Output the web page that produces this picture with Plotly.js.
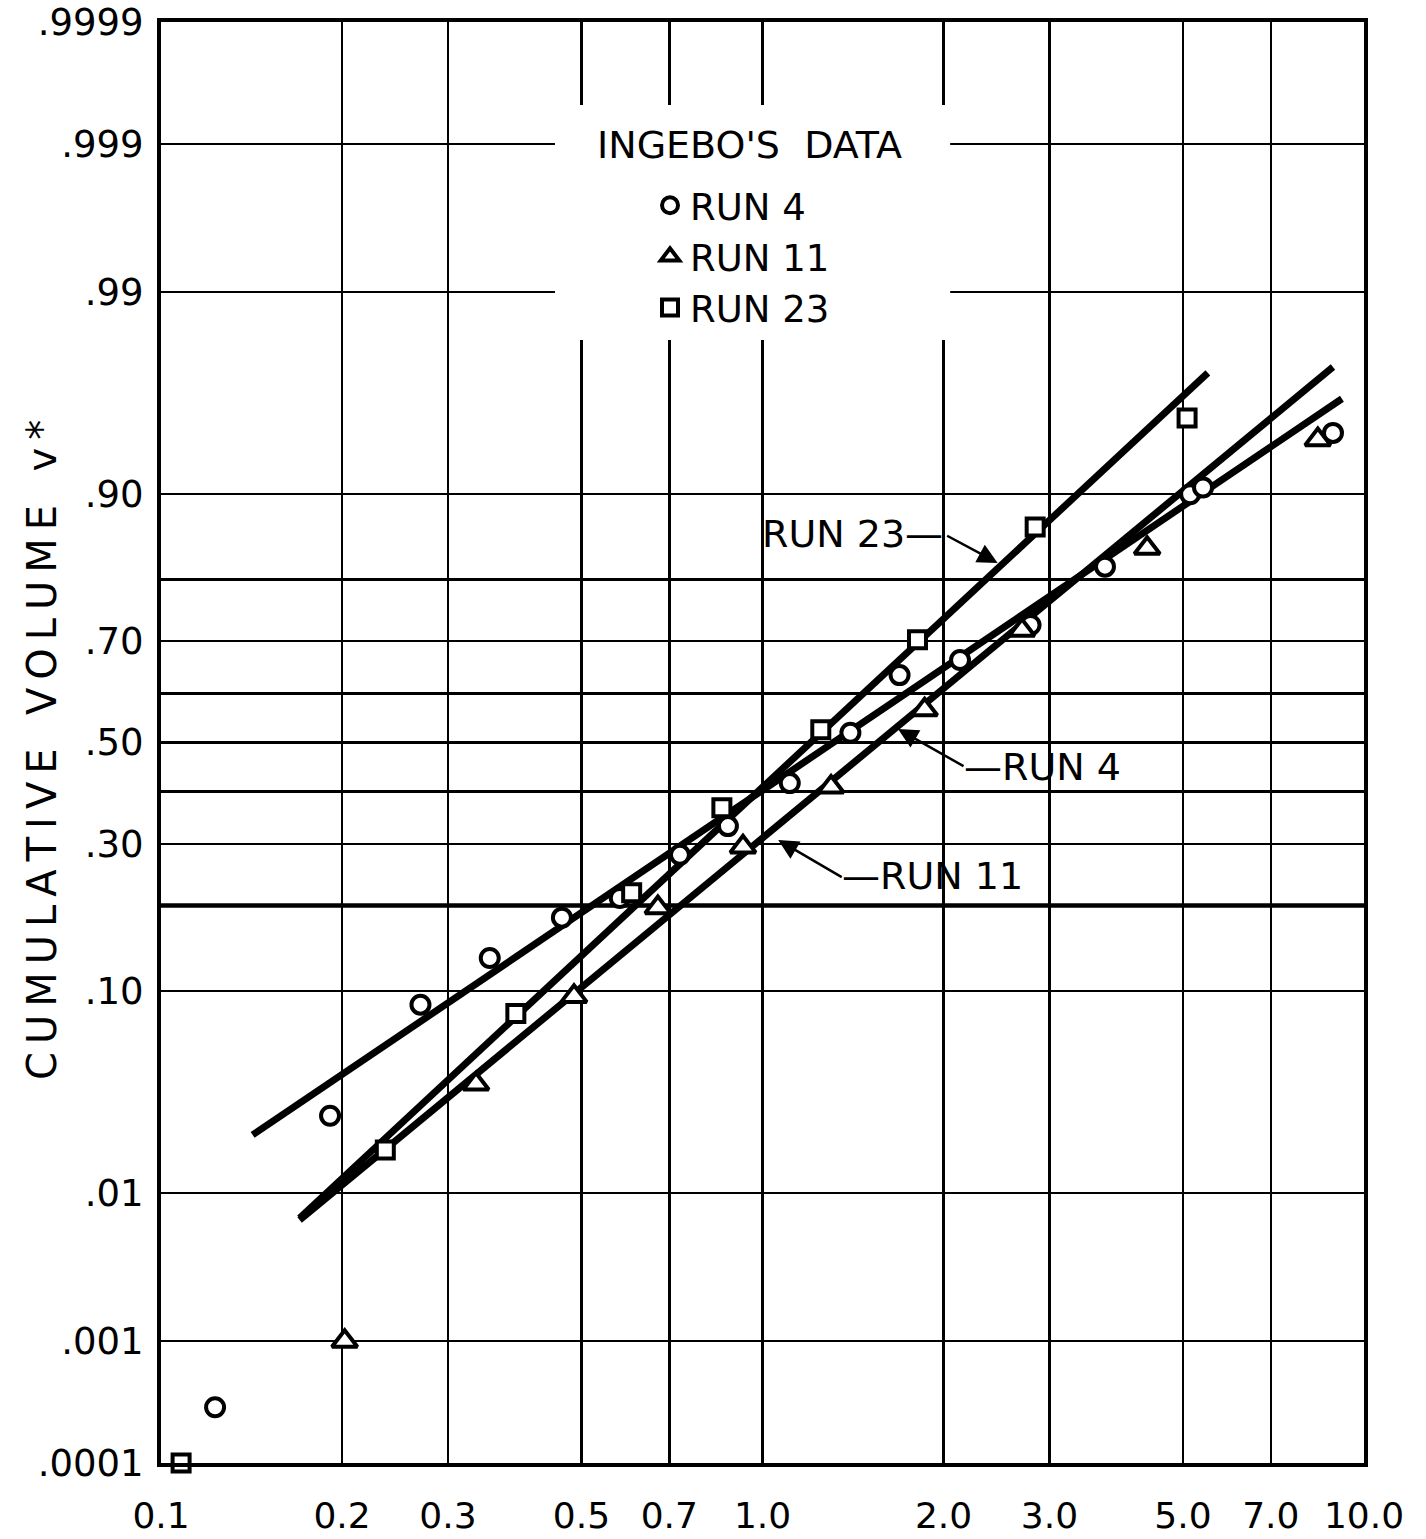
<!DOCTYPE html>
<html>
<head>
<meta charset="utf-8">
<script src="https://cdn.plot.ly/plotly-3.0.1.min.js"></script>
<style>html,body{margin:0;padding:0;background:#fff;}#chart{width:1426px;height:1539px;}</style>
</head>
<body>
<div id="chart"></div>
<script>
// ---------- data ----------
// drop size (x) and cumulative volume fraction (probability)
const run4X  = [0.123, 0.191, 0.270, 0.352, 0.464, 0.579, 0.729, 0.876, 1.11, 1.40, 1.69, 2.13, 2.79, 3.71, 5.14, 5.40, 8.88];
const run4P  = [0.0003, 0.027, 0.088, 0.133, 0.183, 0.211, 0.281, 0.333, 0.417, 0.520, 0.636, 0.665, 0.728, 0.818, 0.900, 0.906, 0.945];
const run11X = [0.202, 0.334, 0.486, 0.670, 0.928, 1.30, 1.86, 2.70, 4.36, 8.38];
const run11P = [0.001, 0.039, 0.095, 0.197, 0.295, 0.409, 0.567, 0.719, 0.842, 0.941];
const run23X = [0.108, 0.236, 0.389, 0.606, 0.856, 1.25, 1.81, 2.84, 5.08];
const run23P = [0.0001, 0.0177, 0.081, 0.219, 0.368, 0.526, 0.702, 0.867, 0.953];
// hand-drawn fitted lines (end points)
const fit4X  = [0.142, 9.19];
const fit4P  = [0.0214, 0.962];
const fit11X = [0.170, 8.88];
const fit11P = [0.00685, 0.9737];
const fit23X = [0.170, 5.50];
const fit23P = [0.00705, 0.9718];
// axes
const xTickVals = [0.1, 0.2, 0.3, 0.5, 0.7, 1, 2, 3, 5, 7, 10];
const xTickText = ["0.1", "0.2", "0.3", "0.5", "0.7", "1.0", "2.0", "3.0", "5.0", "7.0", "10.0"];
const yGridP    = [0.0001, 0.001, 0.01, 0.10, 0.20, 0.30, 0.40, 0.50, 0.60, 0.70, 0.80, 0.90, 0.99, 0.999, 0.9999];
const yGridText = [".0001", ".001", ".01", ".10", "", ".30", "", ".50", "", ".70", "", ".90", ".99", ".999", ".9999"];
const seriesNames = ["RUN 4", "RUN 11", "RUN 23"];

// ---------- probability scale (normal quantile) ----------
function normInv(p) {
  const a=[-3.969683028665376e+01,2.209460984245205e+02,-2.759285104469687e+02,1.383577518672690e+02,-3.066479806614716e+01,2.506628277459239e+00];
  const b=[-5.447609879822406e+01,1.615858368580409e+02,-1.556989798598866e+02,6.680131188771972e+01,-1.328068155288572e+01];
  const c=[-7.784894002430293e-03,-3.223964580411365e-01,-2.400758277161838e+00,-2.549732539343734e+00,4.374664141464968e+00,2.938163982698783e+00];
  const d=[7.784695709041462e-03,3.224671290700398e-01,2.445134137142996e+00,3.754408661907416e+00];
  const plow=0.02425, phigh=1-plow; let q,r;
  if(p<plow){q=Math.sqrt(-2*Math.log(p));return (((((c[0]*q+c[1])*q+c[2])*q+c[3])*q+c[4])*q+c[5])/((((d[0]*q+d[1])*q+d[2])*q+d[3])*q+1);}
  if(p<=phigh){q=p-0.5;r=q*q;return (((((a[0]*r+a[1])*r+a[2])*r+a[3])*r+a[4])*r+a[5])*q/(((((b[0]*r+b[1])*r+b[2])*r+b[3])*r+b[4])*r+1);}
  q=Math.sqrt(-2*Math.log(1-p));return -(((((c[0]*q+c[1])*q+c[2])*q+c[3])*q+c[4])*q+c[5])/((((d[0]*q+d[1])*q+d[2])*q+d[3])*q+1);
}
const Z = arr => arr.map(normInv);

const FONT = "DejaVu Sans, Liberation Sans, sans-serif";
const markerBase = {color: "#fff", line: {color: "#000", width: 4}};
const lineStyle = {color: "#000", width: 7};

const traces = [
  {x: fit4X,  y: Z(fit4P),  mode: "lines", line: lineStyle, showlegend: false, hoverinfo: "skip"},
  {x: fit11X, y: Z(fit11P), mode: "lines", line: lineStyle, showlegend: false, hoverinfo: "skip"},
  {x: fit23X, y: Z(fit23P), mode: "lines", line: lineStyle, showlegend: false, hoverinfo: "skip"},
  {x: run4X,  y: Z(run4P),  mode: "markers", name: seriesNames[0], cliponaxis: false,
   marker: Object.assign({symbol: "circle", size: 18}, markerBase)},
  {x: run11X, y: Z(run11P), mode: "markers", name: seriesNames[1], cliponaxis: false,
   marker: Object.assign({symbol: "triangle-up", size: 22}, markerBase)},
  {x: run23X, y: Z(run23P), mode: "markers", name: seriesNames[2], cliponaxis: false,
   marker: Object.assign({symbol: "square", size: 17}, markerBase)}
];

const lg = Math.log10;
const annFont = {family: FONT, size: 38, color: "#000"};
const arrowCfg = {text: "", showarrow: true, arrowhead: 2, arrowsize: 1.6, arrowwidth: 2.5, arrowcolor: "#000", standoff: 0, startstandoff: 0};

const layout = {
  width: 1426, height: 1539,
  margin: {l: 161, r: 62, t: 22, b: 76},
  paper_bgcolor: "#fff", plot_bgcolor: "#fff",
  font: {family: FONT, color: "#000"},
  showlegend: true,
  legend: {x: 0.4065, y: 0.894, xanchor: "left", yanchor: "top", bgcolor: "rgba(0,0,0,0)",
           font: {family: FONT, size: 37, color: "#000"}, tracegroupgap: 0, itemclick: false},
  xaxis: {type: "log", range: [-1, 1], tickmode: "array", tickvals: xTickVals, ticktext: xTickText,
          showgrid: true, gridcolor: "#000", gridwidth: 2.5, zeroline: false,
          showline: true, mirror: true, linecolor: "#000", linewidth: 4, ticks: "",
          ticklabelstandoff: 18, tickfont: {family: FONT, size: 36, color: "#000"}},
  yaxis: {type: "linear", range: [normInv(0.0001), normInv(0.9999)], tickmode: "array",
          tickvals: Z(yGridP), ticktext: yGridText,
          showgrid: true, gridcolor: "#000", gridwidth: 2.5, zeroline: false,
          showline: true, mirror: true, linecolor: "#000", linewidth: 4, ticks: "",
          ticklabelstandoff: 6, tickfont: {family: FONT, size: 37, color: "#000"}},
  shapes: [
    // heavier .20 line
    {type: "line", xref: "paper", yref: "y", x0: 0, x1: 1, y0: normInv(0.20), y1: normInv(0.20),
     line: {color: "#000", width: 4.5}, layer: "below"},
    // blank panel behind the key
    {type: "rect", xref: "paper", yref: "paper", x0: 0.3275, x1: 0.656, y0: 0.7793, y1: 0.9424,
     fillcolor: "#fff", line: {width: 0}, layer: "above"}
  ],
  annotations: [
    {xref: "paper", yref: "paper", x: -0.099, y: 0.4948, xanchor: "center", yanchor: "middle",
     textangle: -90, showarrow: false,
     text: "C\u2009U\u2009M\u2009U\u2009L\u2009A\u2009T\u2009I\u2009V\u2009E\u00a0\u00a0\u2009V\u2009O\u2009L\u2009U\u2009M\u2009E\u00a0\u00a0\u2009v\u2009*",
     font: {family: FONT, size: 40, color: "#000"}},
    {xref: "paper", yref: "paper", x: 0.4896, y: 0.9146, xanchor: "center", yanchor: "middle", showarrow: false,
     text: "INGEBO'S\u00a0\u00a0DATA", font: annFont},
    // line labels
    {xref: "x", yref: "y", x: lg(2.01), y: normInv(0.859), xanchor: "right", yanchor: "middle",
     showarrow: false, text: "RUN 23\u2014", font: annFont},
    Object.assign({xref: "x", yref: "y", x: lg(2.46), y: normInv(0.823), ax: -52, ay: -28}, arrowCfg),
    {xref: "x", yref: "y", x: lg(2.146), y: normInv(0.4497), xanchor: "left", yanchor: "middle",
     showarrow: false, text: "\u2014RUN 4", font: annFont},
    Object.assign({xref: "x", yref: "y", x: lg(1.68), y: normInv(0.5278), ax: 67, ay: 38}, arrowCfg),
    {xref: "x", yref: "y", x: lg(1.346), y: normInv(0.2453), xanchor: "left", yanchor: "middle",
     showarrow: false, text: "\u2014RUN 11", font: annFont},
    Object.assign({xref: "x", yref: "y", x: lg(1.062), y: normInv(0.3075), ax: 65, ay: 38}, arrowCfg)
  ]
};

Plotly.newPlot("chart", traces, layout, {staticPlot: true, displayModeBar: false});
</script>
</body>
</html>
